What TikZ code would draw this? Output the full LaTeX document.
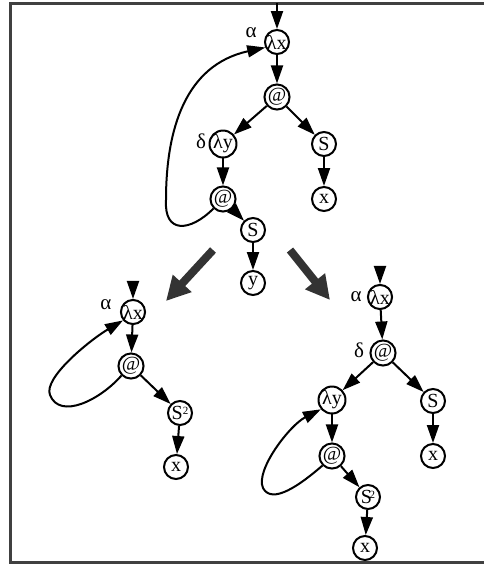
\documentclass[tikz,border=0pt]{standalone}
\usepackage{fontspec}
\setmainfont{Liberation Serif}
\usetikzlibrary{arrows.meta}
\newcommand{\nodefont}{\fontsize{20}{20}\selectfont}
\newcommand{\supertwo}{\raisebox{0.6ex}{\fontsize{11}{11}\selectfont 2}}
\tikzset{
  nd/.style={circle, draw, line width=2pt, minimum size=24pt, inner sep=0pt, font=\nodefont},
  lab/.style={inner sep=0pt, font=\fontsize{21}{21}\selectfont},
  edge/.style={line width=2pt, -{Triangle[length=18pt,width=12pt]}},
  bigarrow/.style={line width=8pt, color=black!80, -{Triangle[length=24pt,width=24pt]}},
  frame/.style={line width=3pt, color=black!75}
}
\begin{document}
\begin{tikzpicture}[x=1pt, y=-1pt]
\useasboundingbox (0,0) rectangle (483,566);
% open frame, cut off on the right
\draw[frame] (490,3) -- (10,3) -- (10,562) -- (490,562);

% ---------- upper graph ----------
\node[nd] (lxA) at (277,42) {\kern-0.5pt λx};
\node[lab] (alA) at (251,33) {α};
\node[nd] (atA) at (277,97) {@};
\node[nd] (lyA) at (223,144) {λy};
\node[lab] (deA) at (201,141) {δ};
\node[nd] (sA) at (324,144) {S};
\node[nd] (xA) at (324,199) {x};
\node[nd] (at2A) at (223,199) {@};
\node[nd] (s2A) at (253,230) {S};
\node[nd] (yA) at (253,283) {y};
\coordinate (inA) at (277,3);

\draw[edge] (inA) -- (lxA);
\draw[edge] (lxA) -- (atA);
\draw[edge] (atA) -- (lyA);
\draw[edge] (atA) -- (sA);
\draw[edge] (sA) -- (xA);
\draw[edge] (lyA) -- (at2A);
\draw[edge] (at2A) -- (s2A);
\draw[edge] (s2A) -- (yA);
\coordinate (loopA) at (166,200);
\draw[edge] (at2A.225) .. controls (190,232) and (164,234) .. (loopA)
  .. controls (166,130) and (185,65) .. (lxA.205);

% ---------- transition arrows ----------
\coordinate (bl1) at (213,250);
\coordinate (bl2) at (166,301);
\coordinate (br1) at (290,250);
\coordinate (br2) at (330,300);
\draw[bigarrow] (bl1) -- (bl2);
\draw[bigarrow] (br1) -- (br2);

% ---------- lower left graph ----------
\node[nd] (lxB) at (133,312) {λx};
\node[lab] (alB) at (106,305) {α};
\node[nd] (atB) at (131,366) {@};
\node[nd] (sB) at (180,413) {S\supertwo};
\node[nd] (xB) at (176,467) {x};
\coordinate (inB) at (133,284);

\draw[edge] (inB) -- (lxB);
\draw[edge] (lxB) -- (atB);
\draw[edge] (atB) -- (sB);
\draw[edge] (sB) -- (xB);
\coordinate (loopB) at (50,395);
\draw[edge] (atB.225) .. controls (100,400) and (60,420) .. (loopB)
  .. controls (43,378) and (90,340) .. (lxB.220);

% ---------- lower right graph ----------
\node[nd] (lxC) at (380,297) {λx};
\node[lab] (alC) at (356,297) {α};
\node[nd] (atC) at (383,353) {@};
\node[lab] (deC) at (359,350) {δ};
\node[nd] (lyC) at (332,400) {λy};
\node[nd] (sC) at (433,401) {S};
\node[nd] (xC) at (433,456) {x};
\node[nd] (at2C) at (332,456) {@};
\node[nd] (s2C) at (368,497) {S\kern-0.12em\supertwo};
\node[nd] (x2C) at (365,548) {x};
\coordinate (inC) at (380,268);

\draw[edge] (inC) -- (lxC);
\draw[edge] (lxC) -- (atC);
\draw[edge] (atC) -- (lyC);
\draw[edge] (atC) -- (sC);
\draw[edge] (sC) -- (xC);
\draw[edge] (lyC) -- (at2C);
\draw[edge] (at2C) -- (s2C);
\draw[edge] (s2C) -- (x2C);
\coordinate (loopC) at (263,488);
\draw[edge] (at2C.225) .. controls (300,485) and (272,505) .. (loopC)
  .. controls (255,470) and (290,425) .. (lyC.220);
\end{tikzpicture}
\end{document}
